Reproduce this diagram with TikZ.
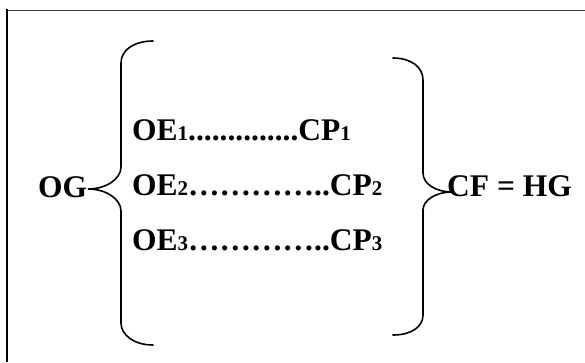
\documentclass[tikz,border=0pt]{standalone}
\usepackage{fontspec}
\setmainfont{Liberation Serif}
\newcommand{\idx}[1]{{\fontsize{21}{25}\selectfont #1}}
\begin{document}
\begin{tikzpicture}[x=1pt,y=1pt,
  lbl/.style={anchor=base west, inner sep=0pt, font=\fontsize{31.5}{37}\selectfont\bfseries},
  brace/.style={line width=1.6pt, line cap=round},
  frametop/.style={line width=1pt, draw=black!75},
  frameleft/.style={line width=2pt, draw=black}]
\useasboundingbox (0,0) rectangle (585,362);

% frame edges
\draw[frametop] (7,351.7) -- (585,351.7);
\draw[frameleft] (7.3,353.3) -- (7.3,0);

% brace tips
\coordinate (ltip) at (88,173);
\coordinate (rtip) at (452,170);

% left brace
\draw[brace] (153,321) .. controls (134,321) and (121,312) .. (121,299) -- (121,195)
  .. controls (121,183) and (106,173) .. (ltip)
  .. controls (106,173) and (121,163) .. (121,151) -- (121,39)
  .. controls (121,27) and (134,17) .. (153,17);

% right brace
\draw[brace] (393,304) .. controls (411,304) and (423,295) .. (423,282) -- (423,189)
  .. controls (423,178) and (436,170) .. (rtip)
  .. controls (436,170) and (423,162) .. (423,152) -- (423,47)
  .. controls (423,35) and (411,27) .. (393,27);

% labels
\node[lbl] (og) at (38,165) {OG};
\node[lbl] (r1) at (132,222) {OE\idx{1}..............CP\idx{1}};
\node[lbl] (r2) at (132,167) {OE\idx{2}…………..CP\idx{2}};
\node[lbl] (r3) at (132,112) {OE\idx{3}…………..CP\idx{3}};
\node[lbl] (cf) at (447,166) {CF = HG};
\end{tikzpicture}
\end{document}
